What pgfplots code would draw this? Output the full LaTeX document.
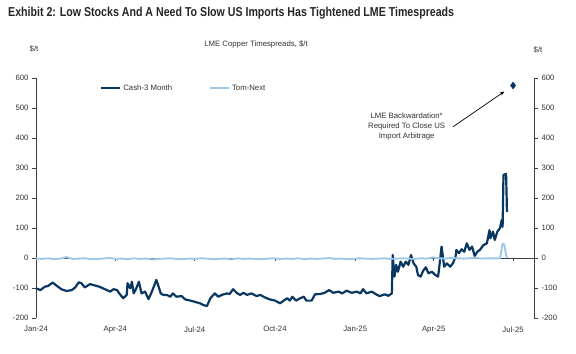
\documentclass[border=0pt]{standalone}
\usepackage{pgfplots}
\pgfplotsset{compat=1.18}
\usepackage{fontspec}
\setmainfont{Liberation Sans}
\usetikzlibrary{arrows.meta}
\definecolor{navy}{HTML}{0A375F}
\definecolor{lblue}{HTML}{9DC8E8}
\definecolor{axgray}{HTML}{404040}
\definecolor{txtgray}{HTML}{333333}

\pgfplotstableread{
day val
0 -101
5 -107
10 -96
14 -93
19 -82
24 -93
29 -104
35 -110
41 -107
45 -98
49 -81
52 -84
56 -98
62 -87
68 -92
73 -96
79 -104
85 -112
89 -104
93 -107
96 -120
100 -134
104 -123
105 -84
108 -101
110 -79
112 -118
115 -101
118 -79
121 -118
125 -112
129 -137
132 -118
135 -96
138 -73
140 -90
143 -118
146 -123
150 -123
154 -129
157 -118
161 -129
167 -127
171 -138
177 -142
182 -146
188 -151
192 -157
196 -160
200 -134
205 -118
209 -129
213 -123
219 -118
222 -120
226 -104
230 -116
234 -123
238 -116
242 -123
247 -118
253 -127
257 -123
263 -132
268 -138
274 -142
280 -151
284 -142
288 -134
291 -142
294 -129
298 -142
303 -134
307 -129
310 -142
316 -142
320 -121
326 -120
331 -116
336 -107
341 -116
347 -112
351 -118
356 -109
362 -116
368 -112
372 -118
375 -104
379 -118
385 -112
391 -123
394 -127
400 -121
404 -126
408 -118
409 10
411 -62
413 -23
415 -46
418 -12
421 -29
424 -12
427 -23
430 10
433 -18
436 -29
438 -57
441 -62
444 -42
447 -31
450 -51
454 -46
458 -57
461 -62
462 -40
465 38
468 -29
471 -18
475 -29
478 -18
481 4
482 27
485 16
488 29
491 21
494 49
497 27
500 38
503 7
506 21
509 27
513 43
517 49
520 93
521 66
524 88
526 60
529 88
532 99
534 127
535 104
536 277
539 280
540 154
}\cashdata

\pgfplotstableread{
day val
0 -2
7 -3
14 -1
21 -4
28 -2
35 3
42 -3
49 -2
56 -1
63 -4
70 -3
77 -2
84 0
91 -3
98 -2
105 -4
112 -1
119 -3
126 -2
133 -5
140 -3
147 -2
154 -1
161 -3
168 -4
175 -2
182 -3
189 -1
196 -2
203 -4
210 -3
217 -2
224 -5
231 -1
238 -3
245 -2
252 -3
259 -4
266 -2
273 -1
280 -3
287 -2
294 -3
301 -1
308 -4
315 -2
322 -3
329 -2
336 0
343 -3
350 -2
357 -4
364 -3
371 -1
378 -2
385 -3
392 -2
399 -1
406 -3
413 -2
420 -1
427 -2
434 -3
441 -1
448 -2
455 2
462 -1
469 -2
476 0
483 -1
490 -2
497 -1
504 1
511 -2
518 -1
525 -1
532 -1
535 48
537 45
539 10
540 0
}\tomdata

\begin{document}
\begin{tikzpicture}
\pgfplotsset{
  every axis/.append style={
    scale only axis, width=498bp, height=240bp,
    xmin=0, xmax=571, ymin=-200, ymax=600,
    ytick={-200,-100,0,100,200,300,400,500,600},
    tick align=outside, major tick length=4bp,
    tick style={axgray, line width=0.6bp},
    tick label style={font=\fontsize{7.8}{9}\selectfont, text=txtgray},
    /pgf/number format/assume math mode=true,
    axis line style={axgray, line width=0.8bp},
  }
}
\begin{axis}[
  axis x line*=bottom, axis y line*=left,
  x axis line style={draw=none},
  xtick={0,91,182,274,366,456,547},
  xticklabels={Jan-24,Apr-24,Jul-24,Oct-24,Jan-25,Apr-25,Jul-25},
  xtick style={draw=none},
  x tick label style={yshift=-1bp},
  legend style={at={(0.1285,0.958)}, anchor=west, draw=none, fill=none,
    inner sep=0pt, font=\fontsize{7.8}{9}\selectfont, text=txtgray,
    /tikz/every even column/.append style={column sep=35bp}},
  legend columns=2,
  legend image code/.code={\draw[#1] (0bp,0bp) -- (19bp,0bp);},
]
\draw[axgray, line width=0.6bp] (axis cs:0,0) -- (axis cs:571,0);
\pgfplotsinvokeforeach{0,91,182,274,366,456,547}{
  \draw[axgray, line width=0.6bp] (axis cs:#1,0) -- ([yshift=-3bp]axis cs:#1,0);
}
\addplot[navy, line width=2.2bp, line join=round] table[x=day,y=val]{\cashdata};
\addlegendentry{Cash-3 Month}
\addplot[lblue, line width=1.9bp, line join=round] table[x=day,y=val]{\tomdata};
\addlegendentry{Tom-Next}
\addplot[only marks, mark=diamond*, mark size=3.5bp, navy, forget plot] coordinates {(547,575)};
\draw[-{Stealth[length=4.5bp,width=3.5bp]}, line width=0.7bp, black] (axis cs:478,437) -- (axis cs:537,555);
\node[align=center, font=\fontsize{7.8}{10}\selectfont, text=txtgray] at (axis cs:425,437)
  {LME Backwardation*\\Required To Close US\\Import Arbitrage};
\end{axis}
\begin{axis}[
  hide x axis, axis y line*=right,
]
\addplot[draw=none, forget plot] coordinates {(0,0)};
\end{axis}
\node[anchor=west, font=\fontsize{13}{15}\bfseries\selectfont, text=black!85, inner sep=0pt] at (-28bp,305bp)
  {\scalebox{0.82}[1]{Exhibit 2: Low Stocks And A Need To Slow US Imports Has Tightened LME Timespreads}};
\node[font=\fontsize{7.8}{9}\selectfont, text=txtgray] at (220bp,274bp) {LME Copper Timespreads, \$/t};
\node[font=\fontsize{7.8}{9}\selectfont, text=txtgray] at (-2bp,269bp) {\$/t};
\node[font=\fontsize{7.8}{9}\selectfont, text=txtgray] at (502bp,268bp) {\$/t};
\pgfresetboundingbox
\path[use as bounding box] (-36bp,-36bp) rectangle (540bp,318bp);
\end{tikzpicture}
\end{document}
